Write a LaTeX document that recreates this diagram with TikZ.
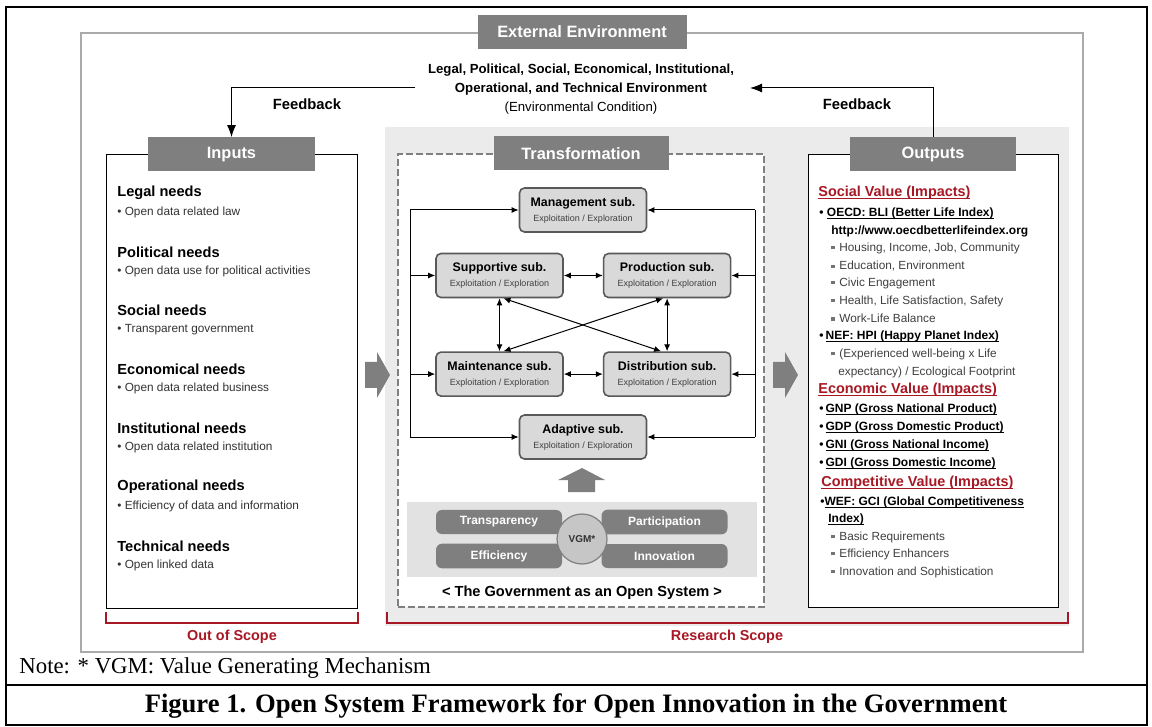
\documentclass[tikz,border=0pt]{standalone}
\usepackage{fontspec}
\setmainfont{Liberation Sans}
\newfontfamily\capfont{Liberation Serif}
\usepackage{tikz}
\usetikzlibrary{arrows.meta, positioning, calc}
\usepackage{xcolor}
\definecolor{boxgray}{RGB}{127,127,127}
\definecolor{subfill}{RGB}{217,217,217}
\definecolor{subdraw}{RGB}{89,89,89}
\definecolor{scopebg}{RGB}{235,235,235}
\definecolor{bandgray}{RGB}{226,226,226}
\definecolor{framegray}{RGB}{170,170,170}
\definecolor{scopered}{RGB}{168,24,36}
\definecolor{textgray}{RGB}{64,64,64}

% subsystem label: name on top, mode below
\newcommand{\subsys}[1]{{\bfseries #1}\\{\fontsize{4.5}{6}\selectfont\color{textgray}Exploitation / Exploration}}
% small square bullet
\newcommand{\sqb}{{\color{black!55}\rule[0.8pt]{1.6pt}{1.6pt}}\hspace{2.4pt}}
% thin underline close to the baseline
\newlength{\ulwd}
\newcommand{\uln}[1]{\settowidth{\ulwd}{#1}\rlap{\rule[-1.3pt]{\ulwd}{0.45pt}}#1}

\begin{document}
\begin{tikzpicture}[
    x=0.5pt, y=-0.5pt,
    header/.style={rectangle, fill=boxgray, text=white, font=\bfseries\fontsize{8.2}{10}\selectfont, minimum height=17pt, inner sep=0pt},
    panel/.style={rectangle, draw=black, fill=white, line width=0.5pt, inner sep=0pt},
    subbox/.style={rectangle, rounded corners=2.5pt, draw=subdraw, fill=subfill, line width=0.8pt, minimum width=63.5pt, minimum height=22pt, align=center, inner sep=0pt, font=\fontsize{6.2}{7.5}\selectfont},
    pill/.style={rectangle, rounded corners=3pt, fill=boxgray, text=white, minimum width=63pt, minimum height=12pt, font=\bfseries\fontsize{6}{7}\selectfont},
    need/.style={anchor=west, inner sep=0pt, font=\bfseries\fontsize{7.3}{9}\selectfont},
    needitem/.style={anchor=west, inner sep=0pt, text=black!80, font=\fontsize{5.9}{7}\selectfont},
    vhead/.style={anchor=west, inner sep=0pt, text=scopered, font=\bfseries\fontsize{7.2}{9}\selectfont},
    vitem/.style={anchor=west, inner sep=0pt, font=\bfseries\fontsize{6}{7}\selectfont},
    vsub/.style={anchor=west, inner sep=0pt, text=textgray, font=\fontsize{5.9}{7}\selectfont},
    link/.style={-{Latex[length=3.5pt,width=3pt]}, line width=0.5pt},
    twoway/.style={{Latex[length=3.5pt,width=3pt]}-{Latex[length=3.5pt,width=3pt]}, line width=0.5pt},
    feedback/.style={-{Latex[length=6pt,width=4.5pt]}, line width=0.5pt},
    bracket/.style={draw=scopered, line width=1.1pt},
    bigarrow/.style={fill=boxgray},
]
    \useasboundingbox (0,0) rectangle (1152,727);

    % figure frame and caption row
    \draw[line width=1pt] (6,7) rectangle (1147,725);
    \draw[line width=1pt] (6,685) -- (1147,685);

    % external environment
    \node[draw=framegray, line width=1pt, minimum width=501pt, minimum height=309.5pt, inner sep=0pt] (envframe) at (582,342.5) {};
    \fill[scopebg] (385,127) rectangle (1069,626);
    \node[header, minimum width=104.5pt] (envhead) at (envframe.north) {External Environment};
    \node[align=center, font=\fontsize{6.6}{9.5}\selectfont] (envtext) at (581,89)
        {\textbf{Legal, Political, Social, Economical, Institutional,}\\\textbf{Operational, and Technical Environment}\\(Environmental Condition)};

    % the three panels
    \node[panel, minimum width=125.5pt, minimum height=226.5pt] (inbox) at (231.5,381.5) {};
    \node[header, minimum width=83.5pt] (inhead) at (inbox.north) {Inputs};
    \node[panel, draw=boxgray, dash pattern=on 3.5pt off 1.5pt, line width=0.6pt, minimum width=183pt, minimum height=226.5pt] (trbox) at (581,380.5) {};
    \node[header, minimum width=87.5pt] (trhead) at (trbox.north) {Transformation};
    \node[panel, minimum width=125pt, minimum height=226pt] (outbox) at (933,381) {};
    \node[header, minimum width=83pt] (outhead) at (outbox.north) {Outputs};

    % feedback loop
    \coordinate (fbl) at (415,88);
    \coordinate (fbr) at (750,88);
    \draw[feedback] (fbl) -| (inhead.north);
    \draw[feedback] (outhead.north) |- (fbr);
    \node[font=\bfseries\fontsize{7.4}{9}\selectfont] (fbltext) at (307,104) {Feedback};
    \node[font=\bfseries\fontsize{7.4}{9}\selectfont] (fbrtext) at (857,104) {Feedback};

    % inputs
    \foreach \need/\detail [count=\i from 0] in {Legal needs/Open data related law,
        Political needs/Open data use for political activities,
        Social needs/Transparent government,
        Economical needs/Open data related business,
        Institutional needs/Open data related institution,
        Operational needs/Efficiency of data and information,
        Technical needs/Open linked data} {
        \node[need] (need\i) at (117,{193+58.8*\i}) {\need};
        \node[needitem] (detail\i) at (117,{212.5+58.8*\i}) {• \detail};
    }

    % subsystems
    \node[subbox] (mgmt) at (583,210) {\subsys{Management sub.}};
    \node[subbox] (supp) at (499.5,275.5) {\subsys{Supportive sub.}};
    \node[subbox, right=19.5pt of supp] (prod) {\subsys{Production sub.}};
    \node[subbox, below=26.5pt of supp] (maint) {\subsys{Maintenance sub.}};
    \node[subbox, right=19.5pt of maint] (distr) {\subsys{Distribution sub.}};
    \node[subbox] (adapt) at (583,437) {\subsys{Adaptive sub.}};

    \coordinate (busnw) at (410,210);
    \coordinate (bussw) at (410,437);
    \coordinate (busne) at (755,210);
    \coordinate (busse) at (755,437);
    \draw[line width=0.5pt] (busnw) -- (bussw);
    \draw[line width=0.5pt] (busne) -- (busse);
    \draw[link] (busnw) -- (mgmt);
    \draw[link] (busnw |- supp) -- (supp);
    \draw[link] (busnw |- maint) -- (maint);
    \draw[link] (bussw) -- (adapt);
    \draw[link] (busne) -- (mgmt);
    \draw[link] (busne |- prod) -- (prod);
    \draw[link] (busne |- distr) -- (distr);
    \draw[link] (busse) -- (adapt);

    \draw[twoway] (supp) -- (prod);
    \draw[twoway] (maint) -- (distr);
    \draw[twoway] (supp) -- (maint);
    \draw[twoway] (prod) -- (distr);
    \draw[twoway] ([xshift=2pt]supp.south) -- ([xshift=-3pt]distr.north);
    \draw[twoway] ([xshift=-2pt]prod.south) -- ([xshift=2pt]maint.north);

    % value generating mechanism
    \fill[bigarrow] (568,492) -- (568,480) -- (558,480) -- (582,468) -- (605,480) -- (595,480) -- (595,492) -- cycle;
    \fill[bandgray] (407,502) rectangle (757,577);
    \node[pill] (transp) at (499,522) {Transparency};
    \node[pill] (effic) at (499,556) {Efficiency};
    \node[pill] (partic) at (664.5,522) {Participation};
    \node[pill] (innov) at (664.5,556) {Innovation};
    \node[circle, fill=gray!45, draw=boxgray, line width=0.6pt, minimum size=25pt, inner sep=0pt, text=black!80, font=\bfseries\fontsize{5}{6}\selectfont] (vgm) at (582,539) {VGM*};
    \node[font=\bfseries\fontsize{7.3}{9}\selectfont] (govsys) at (582,593) {< The Government as an Open System >};

    % flow arrows between panels
    \foreach \sx in {365,773}
        \fill[bigarrow, shift={(\sx,0)}] (0,362) -- (12,362) -- (12,352) -- (25,375) -- (12,398) -- (12,388) -- (0,388) -- cycle;

    % outputs
    \node[vhead] (soc) at (818,193) {\uln{Social Value (Impacts)}};
    \node[vitem] (oecd) at (819,213) {•\ \uln{OECD: BLI (Better Life Index)}};
    \node[vitem] (url) at (831,231) {http://www.oecdbetterlifeindex.org};
    \node[vsub] (bli1) at (831,248) {\sqb Housing, Income, Job, Community};
    \node[vsub] (bli2) at (831,266) {\sqb Education, Environment};
    \node[vsub] (bli3) at (831,283) {\sqb Civic Engagement};
    \node[vsub] (bli4) at (831,301) {\sqb Health, Life Satisfaction, Safety};
    \node[vsub] (bli5) at (831,318) {\sqb Work-Life Balance};
    \node[vitem] (nef) at (819,336) {•\,\uln{NEF: HPI (Happy Planet Index)}};
    \node[vsub] (hpi1) at (831,354) {\sqb (Experienced well-being x Life};
    \node[vsub] (hpi2) at (838,372) {expectancy) / Ecological Footprint};
    \node[vhead] (eco) at (818,390) {\uln{Economic Value (Impacts)}};
    \node[vitem] (gnp) at (819,409) {•\,\uln{GNP (Gross National Product)}};
    \node[vitem] (gdp) at (819,427) {•\,\uln{GDP (Gross Domestic Product)}};
    \node[vitem] (gni) at (819,445) {•\,\uln{GNI (Gross National Income)}};
    \node[vitem] (gdi) at (819,463) {•\,\uln{GDI (Gross Domestic Income)}};
    \node[vhead] (comp) at (821,483) {\uln{Competitive Value (Impacts)}};
    \node[vitem] (wef) at (820,502) {•\uln{WEF: GCI (Global Competitiveness}};
    \node[vitem] (wefend) at (828,519) {\uln{Index)}};
    \node[vsub] (gci1) at (831,537) {\sqb Basic Requirements};
    \node[vsub] (gci2) at (831,554) {\sqb Efficiency Enhancers};
    \node[vsub] (gci3) at (831,572) {\sqb Innovation and Sophistication};

    % scope brackets
    \draw[bracket] (106,612) |- (358,623) -- (358,612);
    \node[text=scopered, font=\bfseries\fontsize{7.2}{9}\selectfont] (outscope) at (232,637) {Out of Scope};
    \draw[bracket] (387,612) |- (1068,623) -- (1068,612);
    \node[text=scopered, font=\bfseries\fontsize{7.2}{9}\selectfont] (resscope) at (727,637) {Research Scope};

    % note and caption
    \node[anchor=west, inner sep=0pt, font=\capfont\fontsize{11.4}{13}\selectfont] (note) at (19,668) {Note: * VGM: Value Generating Mechanism};
    \node[font=\capfont\bfseries\fontsize{13.3}{15}\selectfont] (caption) at (576,706) {Figure 1. Open System Framework for Open Innovation in the Government};
\end{tikzpicture}
\end{document}
